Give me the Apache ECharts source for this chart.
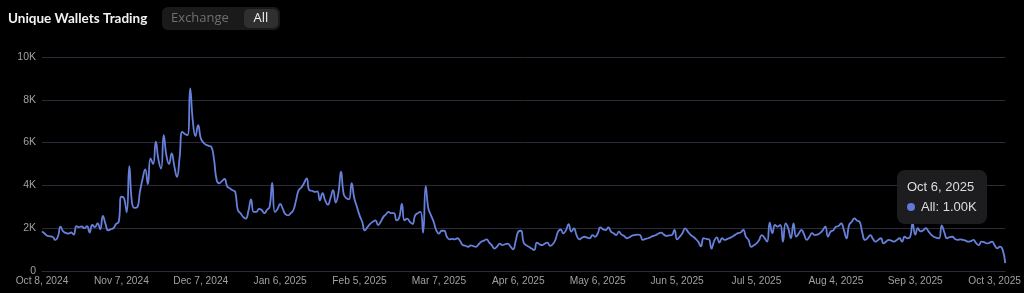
<!DOCTYPE html>
<html>
<head>
<meta charset="utf-8">
<script src="https://cdn.jsdelivr.net/npm/echarts@6/dist/echarts.min.js"></script>
<style>
html,body{margin:0;padding:0;background:#000;}
#chart{width:1024px;height:293px;}
</style>
</head>
<body>
<div id="chart"></div>
<script>
// ---- data ----
const startDate = [2024, 9, 8]; // Oct 8, 2024 (month 0-based)
const seriesName = 'All';
const values = [
  1850, 1750, 1650, 1620, 1600, 1450, 1600, 2070, 1850, 1780,
  1750, 1800, 1700, 2100, 2050, 2080, 2000, 2100, 1800, 2150,
  2050, 2230, 1950, 2570, 2200, 1900, 1950, 2000, 2200, 2300,
  3470, 3400, 2750, 4900, 3200, 2950, 2980, 3700, 4300, 4750,
  4060, 5260, 5000, 6040, 5200, 4790, 6350, 5400, 5000, 5500,
  4900, 4400, 5300, 6500, 6400, 6350, 8530, 7000, 6300, 6820,
  6200, 6000, 5900, 5850, 5800, 5220, 4250, 4100, 4200, 4300,
  3950, 3860, 3770, 3700, 2850, 2700, 2530, 2450, 2800, 3350,
  2760, 2760, 2900, 2850, 2700, 2850, 3000, 4120, 2760, 2900,
  3130, 2900, 2650, 2600, 2700, 2850, 3300, 3780, 3900, 4100,
  4330, 3780, 3750, 3700, 3720, 3300, 3640, 3300, 3100, 3400,
  3780, 3200, 3640, 4640, 3600, 3400, 3350, 4100, 3400, 3000,
  2600, 2300, 1900, 2050, 2200, 2300, 2370, 2150, 2300, 2530,
  2650, 2760, 2700, 2700, 2370, 2500, 3130, 2370, 2450, 2300,
  2200, 2600, 2700, 2760, 1790, 3970, 2920, 2600, 2300, 1900,
  1750, 1880, 1880, 1600, 1480, 1500, 1480, 1530, 1400, 1210,
  1180, 1130, 1200, 1160, 1130, 1250, 1370, 1420, 1480, 1330,
  1200, 1050, 1150, 1280, 1210, 1250, 1280, 1150, 1010, 1400,
  1840, 1880, 1330, 1200, 1130, 1050, 980, 1330, 1250, 1210,
  1280, 1330, 1170, 1250, 1450, 1840, 1940, 1760, 1900, 2190,
  1840, 1990, 1680, 1480, 1550, 1600, 1560, 1530, 1680, 1600,
  1750, 2040, 1950, 1910, 2040, 1840, 1760, 1680, 1840, 1700,
  1640, 1530, 1580, 1650, 1680, 1700, 1680, 1450, 1500, 1530,
  1580, 1640, 1680, 1750, 1790, 1700, 1640, 1660, 1680, 1920,
  1480, 1600, 1760, 1990, 1850, 1700, 1610, 1500, 1370, 1150,
  1530, 1500, 1480, 1050, 1400, 1570, 1330, 1530, 1450, 1500,
  1550, 1610, 1700, 1770, 1800, 1920, 1600, 1450, 1130, 1200,
  1290, 1450, 1680, 1550, 1370, 2260, 1770, 2150, 2070, 2150,
  1370, 2220, 1990, 1530, 2220, 1610, 1750, 1920, 1700, 1450,
  1600, 1770, 1680, 1700, 1770, 1900, 2070, 1610, 1840, 1900,
  2070, 2100, 2230, 1920, 1530, 2150, 2300, 2460, 2350, 2300,
  1770, 1450, 1550, 1680, 1500, 1370, 1450, 1530, 1290, 1380,
  1450, 1420, 1370, 1450, 1530, 1370, 1600, 1530, 1580, 2230,
  1700, 2000, 1850, 1900, 2000, 1850, 1700, 1600, 1550, 1530,
  2130, 1800, 1530, 1580, 1600, 1500, 1450, 1480, 1450, 1420,
  1370, 1400, 1450, 1300, 1210, 1370, 1350, 1290, 1320, 1370,
  1200, 1060, 1140, 1000, 370
];
const yTicks = [0, 2000, 4000, 6000, 8000, 10000];
const tooltipIndex = 363; // Oct 6, 2025
const monthNames = ['Jan','Feb','Mar','Apr','May','Jun','Jul','Aug','Sep','Oct','Nov','Dec'];

// categories: one per day from the start date
const categories = values.map((_, i) => {
  const d = new Date(Date.UTC(startDate[0], startDate[1], startDate[2] + i));
  return monthNames[d.getUTCMonth()] + ' ' + d.getUTCDate() + ', ' + d.getUTCFullYear();
});

const chart = echarts.init(document.getElementById('chart'), null, {renderer: 'canvas'});
const axisFont = '"Liberation Sans", Arial, sans-serif';
const option = {
  backgroundColor: '#000000',
  animation: false,
  grid: {left: 42, right: 14, top: 57, bottom: 22, containLabel: false},
  graphic: [
    {type: 'text', x: 8, y: 18.5, style: {text: 'Unique Wallets Trading', fill: '#f2f2f2', font: 'bold 13.5px Lato, "Open Sans", sans-serif', verticalAlign: 'middle'}},
    {type: 'rect', shape: {x: 162, y: 7, width: 118, height: 23, r: 6}, style: {fill: '#1a1a1a'}},
    {type: 'rect', shape: {x: 244, y: 9, width: 34, height: 19, r: 5}, style: {fill: '#2f2f2f'}},
    {type: 'text', x: 200, y: 18.5, style: {text: 'Exchange', fill: '#6f6f6f', font: '13px "Open Sans", sans-serif', align: 'center', verticalAlign: 'middle'}},
    {type: 'text', x: 261, y: 18.5, style: {text: 'All', fill: '#f0f0f0', font: '13px "Open Sans", sans-serif', align: 'center', verticalAlign: 'middle'}}
  ],
  tooltip: {
    trigger: 'axis',
    alwaysShowContent: true,
    transitionDuration: 0,
    showDelay: 0,
    axisPointer: {type: 'none'},
    backgroundColor: 'rgba(30,30,32,0.96)',
    borderColor: 'rgba(30,30,32,0.96)',
    borderWidth: 0,
    borderRadius: 8,
    padding: [7, 10],
    extraCssText: 'box-shadow:none;line-height:20px;',
    textStyle: {color: '#dddddd', fontSize: 13, fontFamily: axisFont},
    position: function () { return [897, 170]; },
    formatter: function (params) {
      const p = params[0];
      return p.name + '<br/>' +
        '<span style="display:inline-block;width:8px;height:8px;border-radius:4px;background:#6178d8;margin-right:6px;"></span>' +
        p.seriesName + ': ' + (p.value / 1000).toFixed(2) + 'K';
    }
  },
  xAxis: {
    type: 'category',
    boundaryGap: false,
    data: categories,
    axisLine: {show: true, lineStyle: {color: '#2a2a38', width: 1}},
    axisTick: {show: false},
    axisLabel: {interval: 29, color: '#a0a0a0', fontSize: 10.2, fontFamily: axisFont, margin: 5, hideOverlap: false},
    splitLine: {show: false}
  },
  yAxis: {
    type: 'value',
    min: yTicks[0],
    max: yTicks[yTicks.length - 1],
    interval: yTicks[1] - yTicks[0],
    axisLine: {show: false},
    axisTick: {show: false},
    axisLabel: {color: '#a0a0a0', fontSize: 10.5, fontFamily: axisFont, margin: 6,
      formatter: v => v === 0 ? '0' : (v / 1000) + 'K'},
    splitLine: {show: true, lineStyle: {color: '#2a2a38', width: 1}}
  },
  series: [{
    name: seriesName,
    type: 'line',
    data: values,
    symbol: 'none',
    smooth: 0.5,
    lineStyle: {color: '#6680dc', width: 1.8},
    itemStyle: {color: '#6680dc'},
    emphasis: {disabled: true}
  }]
};
chart.setOption(option);
chart.dispatchAction({type: 'showTip', seriesIndex: 0, dataIndex: tooltipIndex});
</script>
</body>
</html>
